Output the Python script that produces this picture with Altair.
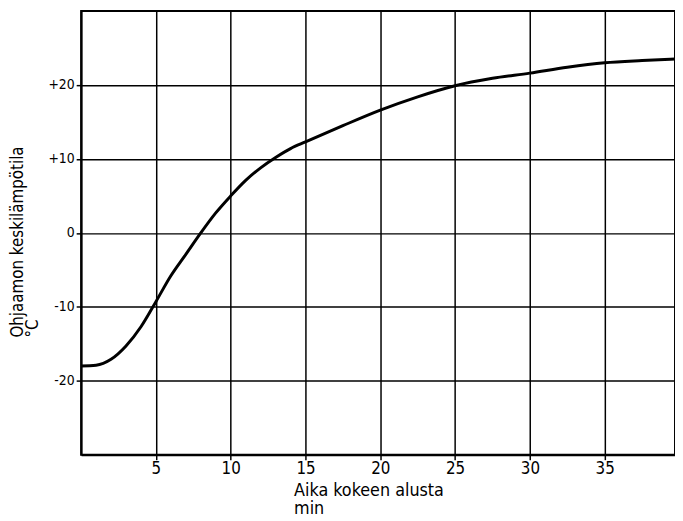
import altair as alt
import pandas as pd

minutes = [0, 1, 2, 3, 4, 5, 6, 7, 8, 9, 10, 11, 12, 13, 14, 15, 17.5, 20,
           22.5, 25, 27.5, 30, 32.5, 35, 37.5, 39.7]
temps = [-18, -17.9, -17.1, -15.3, -12.7, -9.3, -5.8, -2.9, 0, 2.7, 5, 7.1,
         8.8, 10.2, 11.4, 12.3, 14.5, 16.6, 18.4, 19.9, 20.9, 21.6, 22.4,
         23, 23.3, 23.5]
x_ticks = [5, 10, 15, 20, 25, 30, 35]
y_ticks = [-20, -10, 0, 10, 20]

df = pd.DataFrame({"t": minutes, "T": temps})

FONT = "DejaVu Sans Condensed, DejaVu Sans, sans-serif"

chart = alt.Chart(df).mark_line(
    color="black", strokeWidth=3, interpolate="monotone"
).encode(
    x=alt.X(
        "t:Q",
        scale=alt.Scale(domain=[0, 39.7], nice=False, zero=False),
        axis=alt.Axis(
            values=x_ticks,
            title=["Aika kokeen alusta", "min"],
            titleAnchor="start",
            titleAlign="left",
            titleBaseline="top",
            titleX=215,
            titleY=27,
            titleFontSize=18,
            titleFontWeight="normal",
            titleLineHeight=18,
            labelFontSize=17,
            labelPadding=1,
        ),
    ),
    y=alt.Y(
        "T:Q",
        scale=alt.Scale(domain=[-30, 30], nice=False, zero=False),
        axis=alt.Axis(
            values=y_ticks,
            labelExpr="datum.value > 0 ? '+' + datum.value : '' + datum.value",
            title=["Ohjaamon keskilämpötila", "°C"],
            titleAngle=270,
            titleAlign="left",
            titleBaseline="top",
            titleAnchor="start",
            titleX=-72,
            titleY=330,
            titleFontSize=17,
            titleFontWeight="normal",
            titleLineHeight=15,
            labelFontSize=14,
            labelPadding=2,
        ),
    ),
).properties(
    width=601,
    height=449,
    autosize=alt.AutoSizeParams(type="none"),
    padding={"left": 74, "top": 0, "right": 0, "bottom": 64},
    background="white",
).configure_view(
    stroke="black", strokeWidth=2
).configure_axis(
    domainColor="black",
    domainWidth=2,
    gridColor="black",
    gridWidth=1.5,
    gridOpacity=1,
    tickColor="black",
    tickWidth=1.5,
    tickSize=5,
    labelColor="black",
    titleColor="black",
    labelFont=FONT,
    titleFont=FONT,
)

chart.save("out.html", embed_options={"renderer": "svg", "actions": False})
